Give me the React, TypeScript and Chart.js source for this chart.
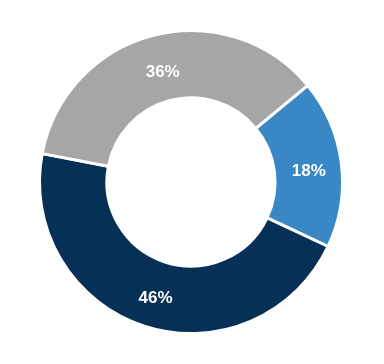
import React, { useEffect, useRef } from "react";
import { Chart, registerables } from "chart.js";

Chart.register(...registerables);

const labels = ["Segment A", "Segment B", "Segment C"];
const values = [18, 46, 36];
const colors = ["#3A87C6", "#073057", "#A6A6A8"];
const valueLabels = ["18%", "46%", "36%"];

const labelPlugin = {
  id: "sliceLabels",
  afterDatasetsDraw(chart: any) {
    const ctx = chart.ctx;
    const meta = chart.getDatasetMeta(0);
    ctx.save();
    ctx.fillStyle = "#ffffff";
    ctx.font = "bold 17px 'Liberation Sans', Arial, sans-serif";
    ctx.textAlign = "center";
    ctx.textBaseline = "middle";
    meta.data.forEach((arc: any, i: number) => {
      const p = arc.tooltipPosition();
      ctx.fillText(valueLabels[i], p.x + 1, p.y + 4);
    });
    ctx.restore();
  },
};

export default function App() {
  const ref = useRef<HTMLCanvasElement>(null);
  useEffect(() => {
    if (!ref.current) return;
    const chart = new Chart(ref.current, {
      type: "doughnut",
      data: {
        labels,
        datasets: [
          {
            data: values,
            backgroundColor: colors,
            borderColor: "#ffffff",
            borderWidth: 3,
            hoverOffset: 0,
          },
        ],
      },
      options: {
        animation: false,
        responsive: true,
        maintainAspectRatio: false,
        rotation: 50.4,
        cutout: "55.5%",
        layout: { padding: { left: 20, right: 22, top: 21, bottom: 21 } },
        plugins: {
          legend: { display: false },
          tooltip: { enabled: false },
        },
      },
      plugins: [labelPlugin],
    });
    return () => chart.destroy();
  }, []);
  return (
    <div style={{ width: 368, height: 348, position: "relative" }}>
      <canvas ref={ref} />
    </div>
  );
}
